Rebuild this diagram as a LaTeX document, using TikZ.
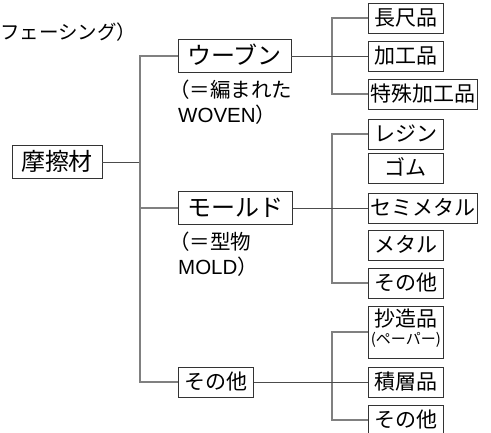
\documentclass[tikz,border=0pt]{standalone}
\usepackage{fontspec}
\setmainfont{Noto Sans CJK JP}
\newfontfamily\latfont{Liberation Sans}
\usepackage{tikz}
\usetikzlibrary{positioning}
\tikzstyle{topbox} = [draw=black!80, line width=0.8pt, font=\fontsize{24}{26}\selectfont, inner xsep=9pt, inner ysep=0pt, minimum height=33pt, text height=20pt, text depth=4pt]
\tikzstyle{leafbox} = [draw=black!80, line width=0.8pt, font=\fontsize{21}{23}\selectfont, inner xsep=2pt, inner ysep=0pt, minimum width=75pt, minimum height=30pt, text height=18pt, text depth=3pt]
\tikzstyle{note} = [align=left, inner sep=0pt, font=\fontsize{20.5}{25}\selectfont]
\tikzstyle{trunk} = [line width=1.3pt, black!50]
\tikzstyle{link} = [line width=0.9pt, black!70]

\begin{document}
\begin{tikzpicture}[x=1pt, y=-1pt]
    \useasboundingbox (0,0) rectangle (491,432);
    \node (title) [anchor=west, inner sep=0pt, font=\fontsize{19.5}{19.5}\selectfont] at (0,32) {フェーシング）};
    % main level
    \node (mat) [topbox] at (57,162) {摩擦材};
    \node (woven) [topbox, anchor=west] at (178,56) {ウーブン};
    \node (mold) [topbox, anchor=west] at (178,208) {モールド};
    \node (other) [leafbox, anchor=west] at (178,382) {その他};
    \node (wovennote) [note, below right=7pt and 0pt of woven.south west] {\hspace*{-9pt}（＝編まれた\\{\latfont WOVEN}）};
    \node (moldnote) [note, below right=7pt and 0pt of mold.south west] {\hspace*{-9pt}（＝型物\\{\latfont MOLD}）};
    % leaves
    \node (long) [leafbox, anchor=west] at (368,18) {長尺品};
    \node (proc) [leafbox, anchor=west] at (368,56) {加工品};
    \node (spec) [leafbox, anchor=west] at (368,94) {特殊加工品};
    \node (resin) [leafbox, anchor=west] at (368,134) {レジン};
    \node (rubber) [leafbox, anchor=west] at (368,168) {ゴム};
    \node (semi) [leafbox, anchor=west] at (368,208) {セミメタル};
    \node (metal) [leafbox, anchor=west] at (368,245) {メタル};
    \node (moldother) [leafbox, anchor=west] at (368,283) {その他};
    \node (paper) [leafbox, anchor=west, align=center, minimum height=52pt, text height=36pt, text depth=12pt] at (368,332) {抄造品\\[-5pt]{\fontsize{15}{15}\selectfont (ペーパー)}};
    \node (lam) [leafbox, anchor=west] at (368,382) {積層品};
    \node (otherother) [leafbox, anchor=west] at (368,420) {その他};
    % connectors
    \coordinate (j1) at (140,162);
    \coordinate (j2) at (332,56);
    \coordinate (j3) at (332,208);
    \coordinate (j4) at (332,382);
    \draw [link] (mat) -- (j1);
    \draw [trunk] (woven.west) -| (j1) |- (other.west);
    \draw [trunk] (j1) |- (mold.west);
    \draw [trunk] (long.west) -| (j2) |- (spec.west);
    \draw [link] (woven) -- (proc);
    \draw [trunk] (resin.west) -| (j3) |- (moldother.west);
    \draw [link] (mold) -- (semi);
    \draw [trunk] (paper.west) -| (j4) |- (otherother.west);
    \draw [link] (other) -- (lam);
\end{tikzpicture}
\end{document}
